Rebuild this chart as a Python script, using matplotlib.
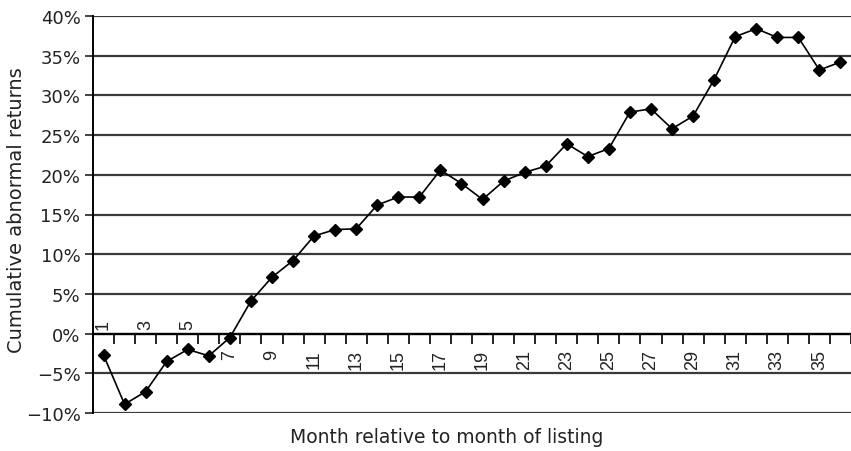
"""
Cumulative abnormal returns by month relative to listing month.
"""

import numpy as np
import matplotlib.pyplot as plt
from matplotlib.ticker import FuncFormatter

plt.rcParams['font.family'] = ['DejaVu Sans']

# months 1..36
months = list(range(1, 37))
car_pct = [-2.7, -8.9, -7.3, -3.5, -2.0, -2.8, -0.5, 4.1, 7.1, 9.2,
           12.3, 13.1, 13.2, 16.2, 17.2, 17.2, 20.6, 18.9, 16.9, 19.2,
           20.3, 21.1, 23.9, 22.3, 23.3, 27.9, 28.3, 25.8, 27.4, 32.0,
           37.4, 38.4, 37.3, 37.3, 33.2, 34.2]
label_months = list(range(1, 37, 2))
above_axis = [1, 3, 5]   # these labels sit above the zero line
y_ticks = [-10, -5, 0, 5, 10, 15, 20, 25, 30, 35, 40]

fig = plt.figure(figsize=(8.51, 4.52), dpi=100)
ax = fig.add_axes([93 / 851, 1 - 414 / 452, 1 - 93 / 851, (414 - 17) / 452])

# horizontal grid
for yv in y_ticks:
    ax.axhline(yv, color='#3a3a3a', lw=1.6, zorder=1)

ax.plot(months, car_pct, color='black', lw=1.2, marker='D', ms=6.5,
        mfc='black', mec='black', zorder=3)

ax.set_ylim(-10, 40)
ax.set_xlim(0.5, 36.09)
ax.set_yticks(y_ticks)
ax.yaxis.set_major_formatter(FuncFormatter(lambda v, p: f'{v:.0f}%'.replace('-', '\u2212')))
ax.tick_params(axis='y', labelsize=13, length=6, width=1.2, pad=3, colors='#222222')

# category axis crosses at 0
ax.spines['bottom'].set_position(('data', 0))
ax.spines['bottom'].set_linewidth(1.6)
ax.spines['left'].set_linewidth(1.4)
ax.spines['top'].set_visible(False)
ax.spines['right'].set_visible(False)
ax.set_xticks(np.arange(0.5, 37, 1))
ax.set_xticklabels([])
ax.tick_params(axis='x', direction='out', length=7, width=1.2)

for m in label_months:
    if m in above_axis:
        ax.annotate(str(m), xy=(m, 0), xytext=(0, 3), textcoords='offset points',
                    rotation=90, ha='center', va='bottom', fontsize=13,
                    family='Liberation Sans', color='#222222')
    else:
        ax.annotate(str(m), xy=(m, 0), xytext=(0, -11), textcoords='offset points',
                    rotation=90, ha='center', va='top', fontsize=13,
                    family='Liberation Sans', color='#222222')

fig.text(17 / 851, 1 - 210 / 452, 'Cumulative abnormal returns', rotation=90,
         ha='center', va='center', fontsize=14, color='#222222')
fig.text(447 / 851, 1 - 438 / 452, 'Month relative to month of listing',
         ha='center', va='center', fontsize=13.5, color='#222222')

fig.savefig('out.png', dpi=100)
